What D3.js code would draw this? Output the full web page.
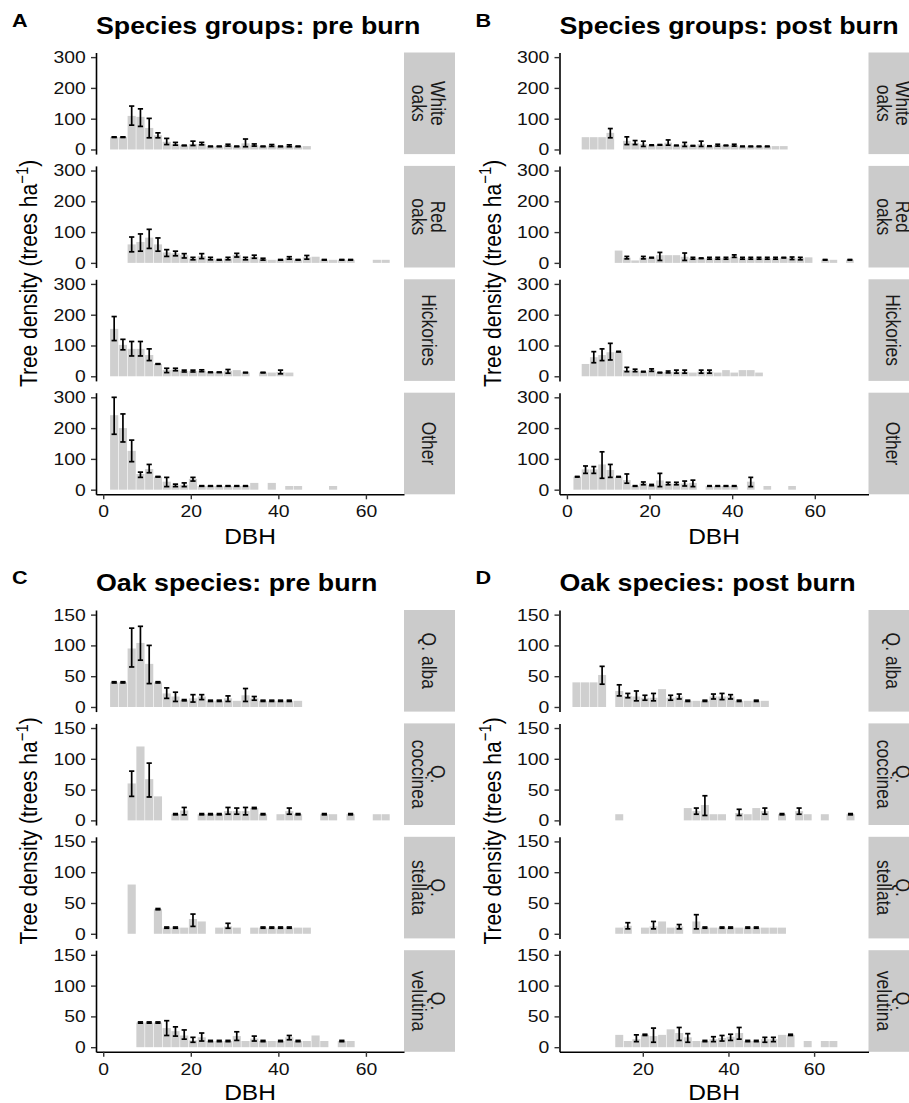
<!DOCTYPE html>
<html>
<head>
<meta charset="utf-8">
<script src="https://cdn.jsdelivr.net/npm/d3@7"></script>
<style>
  body { margin: 0; background: #fff; }
  svg { display: block; }
  text { font-family: "Liberation Sans", Arial, Helvetica, sans-serif; }
</style>
</head>
<body>
<div id="chart"></div>
<script>
// rows are [DBH bin centre, density, error low, error high]

// A: species groups, pre burn
const pre_white_oaks = [[2.5,40,39,41],[4.5,40,39,41],[6.5,109,79,141],[8.5,106,75,132],[10.5,70,38,101],[12.5,46,38,54],[14.5,25,16,36],[16.5,17,14,23],[18.5,13,12,14],[20.5,18,13,27],[22.5,18,15,23],[24.5,10,9,11],[26.5,10,9,11],[28.5,14,11,17],[30.5,10,9,11],[32.5,20,9,34],[34.5,14,11,18],[36.5,10,9,11],[38.5,13,10,16],[40.5,10,9,11],[42.5,12,9,15],[44.5,10,9,11],[46.5,11,null,null]];
const pre_red_oaks = [[6.5,60,36,84],[8.5,68,38,94],[10.5,82,47,109],[12.5,60,38,81],[14.5,34,21,43],[16.5,31,23,38],[18.5,25,16,30],[20.5,14,10,18],[22.5,22,14,30],[24.5,14,10,18],[26.5,10,9,11],[28.5,14,10,18],[30.5,26,19,31],[32.5,14,10,18],[34.5,20,15,25],[36.5,12,9,15],[38.5,10,null,null],[40.5,10,9,11],[42.5,16,12,20],[44.5,10,9,11],[46.5,18,12,24],[48.5,20,null,null],[50.5,10,9,11],[52.5,10,null,null],[54.5,10,9,11],[56.5,10,9,11],[62.5,10,null,null],[64.5,10,null,null]];
const pre_hickories = [[2.5,154,116,194],[4.5,102,86,120],[6.5,89,66,113],[8.5,89,66,113],[10.5,69,51,89],[12.5,40,39,41],[14.5,20,12,26],[16.5,22,18,26],[18.5,17,14,20],[20.5,17,14,20],[22.5,18,15,21],[24.5,13,12,14],[26.5,13,12,14],[28.5,17,10,22],[30.5,20,null,null],[32.5,12,11,13],[36.5,12,11,13],[38.5,12,null,null],[40.5,14,8,20],[42.5,12,null,null]];
const pre_other = [[2.5,242,180,300],[4.5,200,155,246],[6.5,126,91,161],[8.5,51,40,57],[10.5,67,55,82],[12.5,42,41,43],[14.5,26,10,40],[16.5,14,10,18],[18.5,16,10,22],[20.5,35,28,40],[22.5,12,11,13],[24.5,12,11,13],[26.5,12,11,13],[28.5,12,11,13],[30.5,12,11,13],[32.5,12,11,13],[34.5,22,null,null],[38.5,22,null,null],[42.5,12,null,null],[44.5,12,null,null],[52.5,12,null,null]];

// B: species groups, post burn
const post_white_oaks = [[4.5,40,null,null],[6.5,40,null,null],[8.5,40,null,null],[10.5,54,38,68],[14.5,28,16,41],[16.5,22,16,29],[18.5,18,10,27],[20.5,14,13,15],[22.5,15,14,16],[24.5,22,14,31],[26.5,13,12,14],[28.5,16,10,23],[30.5,12,11,13],[32.5,18,10,27],[34.5,11,10,12],[36.5,14,11,17],[38.5,13,12,14],[40.5,14,11,17],[42.5,10,9,11],[44.5,10,9,11],[46.5,10,9,11],[48.5,10,9,11],[50.5,11,null,null],[52.5,11,null,null]];
const post_red_oaks = [[12.5,40,null,null],[14.5,17,13,21],[16.5,8,null,null],[18.5,17,13,21],[20.5,17,16,18],[22.5,25,8,34],[24.5,25,null,null],[26.5,25,null,null],[28.5,20,8,32],[30.5,15,12,18],[32.5,15,14,16],[34.5,15,12,18],[36.5,15,12,18],[38.5,15,12,18],[40.5,20,18,26],[42.5,15,12,18],[44.5,15,12,18],[46.5,15,12,18],[48.5,15,12,18],[50.5,15,12,18],[52.5,17,16,18],[54.5,15,11,19],[56.5,15,10,18],[58.5,18,null,null],[62.5,10,9,11],[64.5,10,null,null],[68.5,10,9,11]];
const post_hickories = [[4.5,40,null,null],[6.5,62,44,80],[8.5,69,51,89],[10.5,78,53,107],[12.5,80,79,81],[14.5,20,15,29],[16.5,19,15,23],[18.5,15,14,16],[20.5,20,16,24],[22.5,12,11,13],[24.5,14,11,17],[26.5,15,10,20],[28.5,15,10,20],[30.5,12,null,null],[32.5,15,10,20],[34.5,15,10,20],[36.5,12,null,null],[38.5,20,null,null],[40.5,12,null,null],[42.5,20,null,null],[44.5,20,null,null],[46.5,12,null,null]];
const post_other = [[2.5,42,41,43],[4.5,66,53,77],[6.5,66,53,75],[8.5,82,37,123],[10.5,64,40,82],[12.5,42,41,43],[14.5,31,21,51],[16.5,12,11,13],[18.5,21,16,25],[20.5,15,13,17],[22.5,30,10,53],[24.5,20,16,24],[26.5,20,16,24],[28.5,20,12,28],[30.5,22,10,31],[34.5,12,11,13],[36.5,12,11,13],[38.5,12,11,13],[40.5,12,11,13],[44.5,26,10,40],[48.5,12,null,null],[54.5,12,null,null]];

// C: oak species, pre burn
const pre_alba = [[2.5,40,39,41],[4.5,40,39,41],[6.5,95,65,128],[8.5,104,76,131],[10.5,70,38,100],[12.5,40,39,41],[14.5,22,14,31],[16.5,17,9,24],[18.5,11,10,12],[20.5,14,8,20],[22.5,17,12,20],[24.5,10,9,11],[26.5,10,9,11],[28.5,14,9,18],[30.5,10,null,null],[32.5,19,9,30],[34.5,14,11,17],[36.5,10,9,11],[38.5,10,9,11],[40.5,10,9,11],[42.5,10,9,11],[44.5,10,null,null]];
const pre_coccinea = [[6.5,60,39,80],[8.5,120,null,null],[10.5,67,38,93],[12.5,39,null,null],[16.5,10,9,11],[18.5,16,9,21],[22.5,10,9,11],[24.5,10,9,11],[26.5,10,9,11],[28.5,15,10,21],[30.5,15,10,20],[32.5,15,9,21],[34.5,20,19,21],[36.5,10,9,11],[40.5,10,null,null],[42.5,15,10,20],[44.5,10,9,11],[50.5,10,9,11],[52.5,10,null,null],[56.5,10,9,11],[62.5,10,null,null],[64.5,10,null,null]];
const pre_stellata = [[6.5,80,null,null],[12.5,40,39,41],[14.5,10,9,11],[16.5,10,9,11],[18.5,10,null,null],[20.5,24,12,32],[22.5,20,null,null],[26.5,10,null,null],[28.5,12,9,17],[30.5,10,null,null],[34.5,10,null,null],[36.5,10,9,11],[38.5,10,9,11],[40.5,10,9,11],[42.5,10,9,11],[44.5,10,null,null],[46.5,10,null,null]];
const pre_velutina = [[8.5,40,39,41],[10.5,40,39,41],[12.5,40,39,41],[14.5,31,19,43],[16.5,26,18,33],[18.5,19,13,28],[20.5,11,8,16],[22.5,16,10,23],[24.5,10,9,11],[26.5,10,9,11],[28.5,10,9,11],[30.5,18,11,25],[32.5,10,null,null],[34.5,14,10,18],[36.5,10,9,11],[38.5,10,null,null],[40.5,10,9,11],[42.5,16,12,19],[44.5,10,9,11],[46.5,10,null,null],[48.5,19,null,null],[50.5,10,null,null],[54.5,10,9,11],[56.5,10,null,null]];

// D: oak species, post burn
const post_alba = [[4.5,40,null,null],[6.5,40,null,null],[8.5,40,null,null],[10.5,52,37,66],[14.5,26,18,36],[16.5,18,15,22],[18.5,17,10,26],[20.5,15,11,19],[22.5,15,10,22],[24.5,29,null,null],[26.5,15,11,19],[28.5,17,13,21],[30.5,10,9,11],[32.5,10,null,null],[34.5,10,9,11],[36.5,17,13,21],[38.5,17,12,22],[40.5,17,13,20],[42.5,10,9,11],[44.5,10,null,null],[46.5,10,9,11],[48.5,10,null,null]];
const post_coccinea = [[14.5,10,null,null],[30.5,20,null,null],[32.5,15,10,20],[34.5,25,8,40],[36.5,10,null,null],[38.5,10,null,null],[42.5,12,8,18],[44.5,10,null,null],[46.5,20,null,null],[48.5,15,10,20],[52.5,10,9,11],[56.5,15,10,20],[58.5,10,null,null],[62.5,10,null,null],[68.5,10,9,11]];
const post_stellata = [[14.5,10,null,null],[16.5,13,8,18],[20.5,10,null,null],[22.5,12,8,20],[24.5,20,null,null],[26.5,10,null,null],[28.5,12,8,15],[32.5,20,8,31],[34.5,10,9,11],[36.5,10,null,null],[38.5,10,9,11],[40.5,10,9,11],[42.5,10,null,null],[44.5,10,9,11],[46.5,10,9,11],[48.5,10,null,null],[50.5,10,null,null],[52.5,10,null,null]];
const post_velutina = [[14.5,20,null,null],[16.5,10,null,null],[18.5,13,9,20],[20.5,20,19,21],[22.5,18,8,31],[24.5,20,null,null],[26.5,29,null,null],[28.5,23,11,32],[30.5,16,8,22],[32.5,10,null,null],[34.5,10,9,11],[36.5,13,9,17],[38.5,15,10,19],[40.5,17,11,21],[42.5,23,13,32],[44.5,10,9,11],[46.5,10,9,11],[48.5,13,8,16],[50.5,13,9,16],[52.5,20,null,null],[54.5,20,19,21],[58.5,10,null,null],[62.5,10,null,null],[64.5,10,null,null]];

const group_labels = [['White', 'oaks'], ['Red', 'oaks'], ['Hickories'], ['Other']];
const oak_labels = [['Q. alba'], ['Q.', 'coccinea'], ['Q.', 'stellata'], ['Q.', 'velutina']];
const group_ticks = [0, 100, 200, 300];
const oak_ticks = [0, 50, 100, 150];
const dbh_ticks = [0, 20, 40, 60];
const bin_width = 2;

const W = 909, H = 1103;
const facet_h = 101.6, facet_step = 113.4, strip_w = 51;
const bar_fill = '#cfcfcf', strip_fill = '#cbcbcb';
const sx = 1.14;   // the reference type is a little wider than Liberation Sans

const svg = d3.select('#chart').append('svg')
    .attr('width', W)
    .attr('height', H);

const panels = [
    { letter: 'A', title: 'Species groups: pre burn', left: 96, right: 404, top: 52.5,
      xdom: [-1.65, 68.7], ydom: [-15, 315], yticks: group_ticks, labels: group_labels,
      facets: [pre_white_oaks, pre_red_oaks, pre_hickories, pre_other] },
    { letter: 'B', title: 'Species groups: post burn', left: 559.5, right: 868.5, top: 52.5,
      xdom: [-1.8, 73.0], ydom: [-15, 315], yticks: group_ticks, labels: group_labels,
      facets: [post_white_oaks, post_red_oaks, post_hickories, post_other] },
    { letter: 'C', title: 'Oak species: pre burn', left: 96, right: 404, top: 610,
      xdom: [-1.65, 68.7], ydom: [-7.5, 157.5], yticks: oak_ticks, labels: oak_labels,
      facets: [pre_alba, pre_coccinea, pre_stellata, pre_velutina] },
    { letter: 'D', title: 'Oak species: post burn', left: 559.5, right: 868.5, top: 610,
      xdom: [0.55, 72.7], ydom: [-7.5, 157.5], yticks: oak_ticks, labels: oak_labels,
      facets: [post_alba, post_coccinea, post_stellata, post_velutina] }
];

function style_axis(g) {
    g.select('.domain').attr('stroke', '#000').attr('stroke-width', 1.6);
    g.selectAll('.tick line').attr('stroke', '#333').attr('stroke-width', 1.4);
    g.selectAll('.tick text')
        .attr('fill', '#111')
        .attr('transform', `scale(${sx},1)`)
        .style('font-size', '17px')
        .style('font-family', '"Liberation Sans", Arial, sans-serif');
}

function add_text(x, y, str, size, bold, anchor) {
    return svg.append('text')
        .attr('transform', `translate(${x},${y}) scale(${sx},1)`)
        .attr('text-anchor', anchor || 'start')
        .style('font-size', size + 'px')
        .style('font-weight', bold ? 'bold' : 'normal')
        .text(str);
}

function draw_panel(p) {
    const x = d3.scaleLinear().domain(p.xdom).range([p.left, p.right]);
    const panel = svg.append('g').attr('class', 'panel-' + p.letter);

    p.facets.forEach((rows, i) => {
        const top = p.top + i * facet_step;
        const y = d3.scaleLinear().domain(p.ydom).range([top + facet_h, top]);
        const g = panel.append('g');

        // bars
        g.selectAll('rect.bar')
            .data(rows)
            .join('rect')
            .attr('class', 'bar')
            .attr('x', d => x(d[0] - bin_width / 2) + 0.3)
            .attr('width', d => x(d[0] + bin_width / 2) - x(d[0] - bin_width / 2) - 0.6)
            .attr('y', d => y(d[1]))
            .attr('height', d => y(0) - y(d[1]))
            .attr('fill', bar_fill);

        // error bars
        const errs = rows.filter(d => d[2] !== null);
        const cap = 0.6;
        g.selectAll('line.err')
            .data(errs)
            .join('line')
            .attr('class', 'err')
            .attr('x1', d => x(d[0])).attr('x2', d => x(d[0]))
            .attr('y1', d => y(d[2])).attr('y2', d => y(d[3]))
            .attr('stroke', '#000').attr('stroke-width', 1.7);
        ['lo', 'hi'].forEach((k, j) => {
            g.selectAll('line.cap-' + k)
                .data(errs)
                .join('line')
                .attr('class', 'cap-' + k)
                .attr('x1', d => x(d[0] - cap)).attr('x2', d => x(d[0] + cap))
                .attr('y1', d => y(d[2 + j])).attr('y2', d => y(d[2 + j]))
                .attr('stroke', '#000').attr('stroke-width', 1.7);
        });

        // y axis
        g.append('g')
            .attr('transform', `translate(${p.left},0)`)
            .call(d3.axisLeft(y).tickValues(p.yticks).tickSize(5).tickSizeOuter(0).tickPadding(4))
            .call(style_axis);

        // strip
        const s0 = p.right;
        g.append('rect')
            .attr('x', s0).attr('y', top)
            .attr('width', strip_w).attr('height', facet_h)
            .attr('fill', strip_fill);
        const lab = p.labels[i];
        const st = g.append('text')
            .attr('transform', `translate(${s0 + strip_w / 2 - 1},${top + facet_h / 2}) scale(${sx},1) rotate(90)`)
            .attr('text-anchor', 'middle')
            .attr('fill', '#1a1a1a')
            .style('font-size', '17.5px');
        lab.forEach((line, j) => {
            st.append('tspan')
                .attr('x', 0)
                .attr('y', (j - (lab.length - 1) / 2) * 16.7)
                .attr('dominant-baseline', 'central')
                .text(line);
        });

        // x axis on the bottom facet only
        if (i === p.facets.length - 1) {
            const ticks = dbh_ticks.filter(t => t >= p.xdom[0] && t <= p.xdom[1]);
            g.append('g')
                .attr('transform', `translate(0,${top + facet_h})`)
                .call(d3.axisBottom(x).tickValues(ticks).tickSize(5).tickSizeOuter(0).tickPadding(6))
                .call(style_axis);
        }
    });

    const bottom = p.top + 3 * facet_step + facet_h;
    const mid_x = (p.left + p.right) / 2;
    const mid_y = (p.top + bottom) / 2;

    // panel letter and title
    add_text(p.left - 84, p.top - 26, p.letter, 19, true);
    add_text(p.left, p.top - 19, p.title, 23.5, true);

    // x title
    add_text(mid_x, Math.min(bottom + 50, H - 3), 'DBH', 21.5, false, 'middle');

    // y title
    const yt = svg.append('text')
        .attr('transform', `translate(${p.left - 59},${mid_y}) scale(${sx},1) rotate(-90)`)
        .attr('text-anchor', 'middle')
        .style('font-size', '21px');
    yt.append('tspan').text('Tree density (trees ha');
    yt.append('tspan').attr('dy', -8).style('font-size', '15px').text('\u22121');
    yt.append('tspan').attr('dy', 8).text(')');
}

panels.forEach(draw_panel);
</script>
</body>
</html>
